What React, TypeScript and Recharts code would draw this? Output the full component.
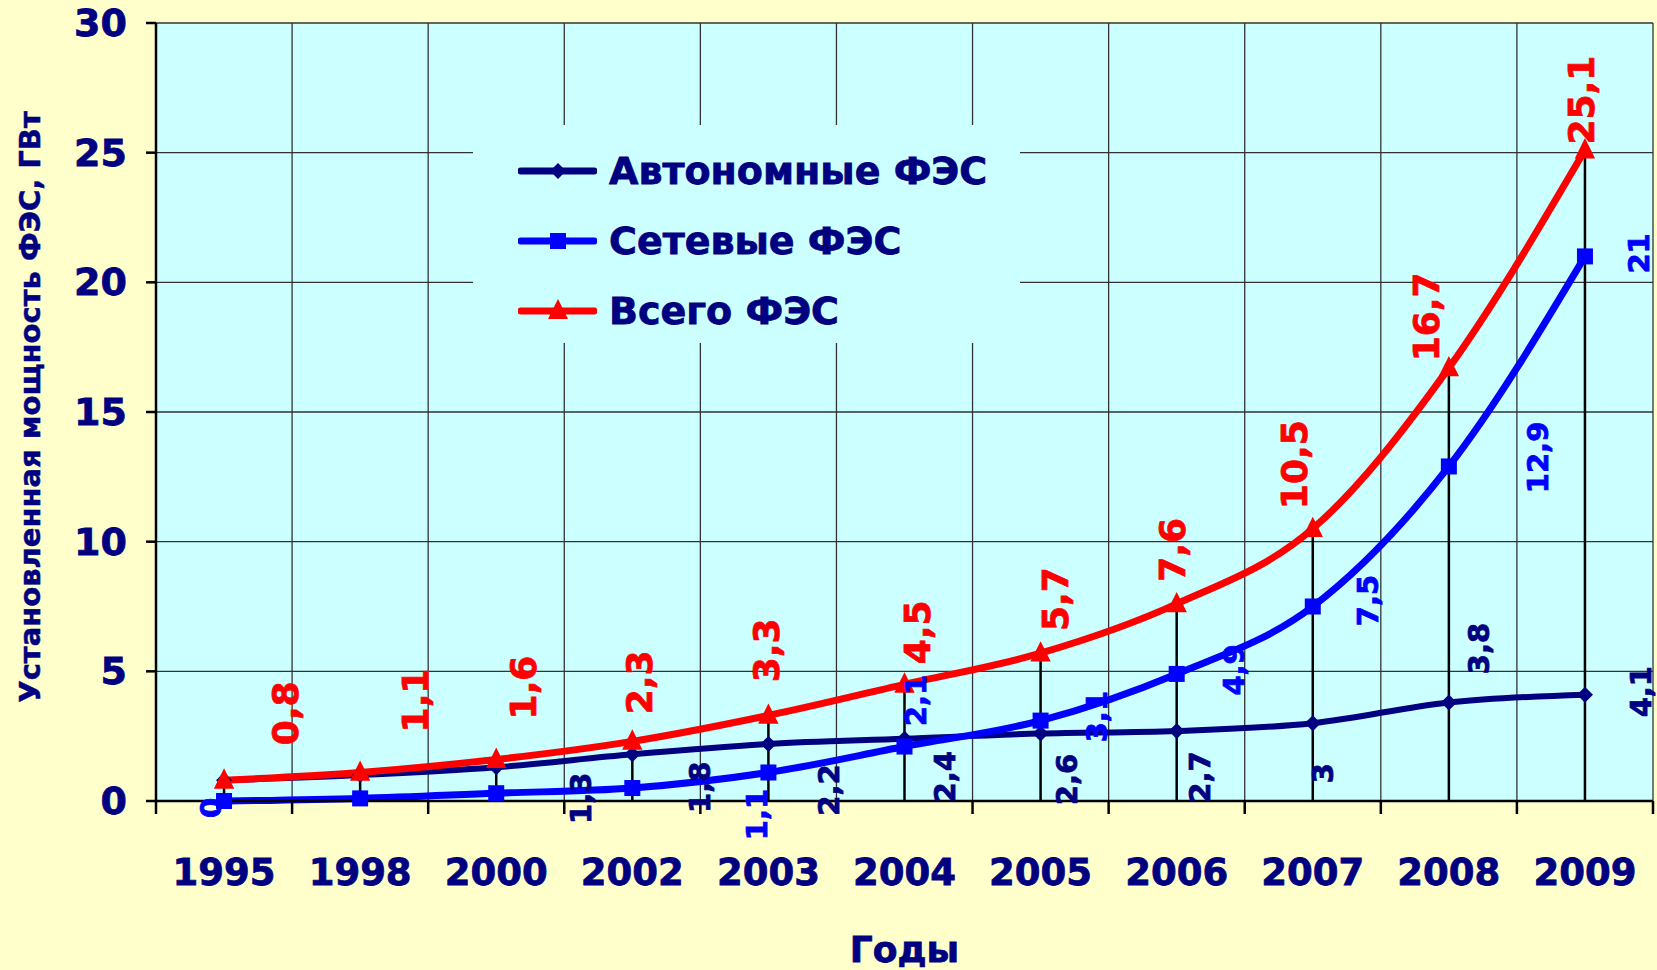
import React from 'react';
import {
  ComposedChart,
  Line,
  XAxis,
  YAxis,
  CartesianGrid,
  ReferenceLine,
  LabelList,
  Legend,
} from 'recharts';

// ---------- data ----------
const years = ['1995', '1998', '2000', '2002', '2003', '2004', '2005', '2006', '2007', '2008', '2009'];
const autonomous = [0.8, 1.0, 1.3, 1.8, 2.2, 2.4, 2.6, 2.7, 3, 3.8, 4.1];
const gridConnected = [0, 0.1, 0.3, 0.5, 1.1, 2.1, 3.1, 4.9, 7.5, 12.9, 21];
const total = [0.8, 1.1, 1.6, 2.3, 3.3, 4.5, 5.7, 7.6, 10.5, 16.7, 25.1];
const yTicks = [0, 5, 10, 15, 20, 25, 30];
const seriesNames = ['Автономные ФЭС', 'Сетевые ФЭС', 'Всего ФЭС'];
const yAxisTitle = 'Установленная мощность ФЭС, ГВт';
const xAxisTitle = 'Годы';

// ---------- label placement (pixel offsets from each point; null = hidden) ----------
const autoLabelOffsets: (number[] | null)[] = [null, null, [85, 31], [68, 33], [61, 46], [41, 38], [26, 46], [23, 46], [10, 50], [30, -54], [56, -3]];
const gridLabelOffsets: (number[] | null)[] = [[-13, 7], null, null, null, [-11, 42], [12, -46], [56, -4], [57, -4], [55, -6], [89, -9], [54, -3]];
const totalLabelOffsets: (number[] | null)[] = [[61, -67], [55, -72], [27, -72], [7, -59], [-2, -65], [13, -52], [15, -54], [-4, -54], [-18, -64], [-22, -51], [-3, -50]];

// ---------- styles ----------
const W = 1657;
const H = 970;
const MARGIN = { top: 23, right: 4, left: 56, bottom: 69 };
const Y_AXIS_W = 100;
const X_AXIS_H = 100;
const PLOT_W = W - MARGIN.left - Y_AXIS_W - MARGIN.right;
const BAND = PLOT_W / years.length;
const FONT = "'DejaVu Sans', sans-serif";
const NAVY = '#000080';
const BLUE = '#0000FF';
const RED = '#FF0000';
const PAGE_BG = '#FFFFCC';
const PLOT_BG = '#CCFFFF';

const rows = years.map((year, i) => ({
  pos: i + 0.5,
  year,
  auto: autonomous[i],
  grid: gridConnected[i],
  total: total[i],
}));

const xTicks = Array.from({ length: years.length + 1 }, (_, i) => i);

const fmt = (v: any) => String(v).replace('.', ',');

const makeLabel = (offsets: (number[] | null)[], color: string, size: number) => (props: any) => {
  const { x, y, value, index } = props;
  const off = offsets[index];
  if (!off || x == null || y == null) return null;
  const cx = x + off[0];
  const cy = y + off[1];
  return (
    <text
      key={`lbl-${color}-${index}`}
      x={cx}
      y={cy}
      transform={`rotate(-90 ${cx} ${cy})`}
      textAnchor="middle"
      dominantBaseline="central"
      fill={color}
      stroke={color}
      strokeWidth={0.8}
      fontSize={size}
      fontWeight="bold"
      fontFamily={FONT}
    >
      {fmt(value)}
    </text>
  );
};

const DiamondDot = (props: any) => {
  const { cx, cy, index } = props;
  if (cx == null || cy == null) return null;
  const r = 8;
  return <path key={`dd-${index}`} d={`M${cx},${cy - r}L${cx + r},${cy}L${cx},${cy + r}L${cx - r},${cy}Z`} fill={NAVY} />;
};
const SquareDot = (props: any) => {
  const { cx, cy, index } = props;
  if (cx == null || cy == null) return null;
  const r = 8;
  return <rect key={`sd-${index}`} x={cx - r} y={cy - r} width={2 * r} height={2 * r} fill={BLUE} />;
};
const TriangleDot = (props: any) => {
  const { cx, cy, index } = props;
  if (cx == null || cy == null) return null;
  const r = 12;
  return <path key={`td-${index}`} d={`M${cx},${cy - r}L${cx + r * 0.85},${cy + r * 0.7}L${cx - r * 0.85},${cy + r * 0.7}Z`} fill={RED} />;
};

const YearTick = (props: any) => {
  const { x, y, payload } = props;
  const i = payload.value;
  if (i >= years.length) return <g />;
  return (
    <text
      x={x + BAND / 2}
      y={y + 56}
      textAnchor="middle"
      dominantBaseline="central"
      fill={NAVY}
      stroke={NAVY}
      strokeWidth={0.8}
      fontSize={37}
      fontWeight="bold"
      fontFamily={FONT}
    >
      {years[i]}
    </text>
  );
};

const YValueTick = (props: any) => {
  const { x, y, payload } = props;
  return (
    <text
      x={x}
      y={y}
      textAnchor="end"
      dominantBaseline="central"
      fill={NAVY}
      stroke={NAVY}
      strokeWidth={0.8}
      fontSize={38}
      fontWeight="bold"
      fontFamily={FONT}
    >
      {payload.value}
    </text>
  );
};

const LegendIcon = ({ color, shape }: { color: string; shape: string }) => (
  <svg width={79} height={26} style={{ display: 'block' }}>
    <line x1={3} y1={13} x2={76} y2={13} stroke={color} strokeWidth={7} strokeLinecap="round" />
    {shape === 'diamond' && <path d="M40,5L48,13L40,21L32,13Z" fill={color} />}
    {shape === 'square' && <rect x={32} y={5} width={16} height={16} fill={color} />}
    {shape === 'triangle' && <path d="M40,1L50,21L30,21Z" fill={color} />}
  </svg>
);

const legendItems = [
  { name: seriesNames[0], color: NAVY, shape: 'diamond' },
  { name: seriesNames[1], color: BLUE, shape: 'square' },
  { name: seriesNames[2], color: RED, shape: 'triangle' },
];

const LegendContent = () => (
  <div
    style={{
      background: PLOT_BG,
      width: 547,
      height: 218,
      boxSizing: 'border-box',
      paddingTop: 11,
      paddingLeft: 45,
    }}
  >
    {legendItems.map((it) => (
      <div key={it.name} style={{ display: 'flex', alignItems: 'center', height: 70 }}>
        <LegendIcon color={it.color} shape={it.shape} />
        <span
          style={{
            marginLeft: 12,
            color: NAVY,
            fontFamily: FONT,
            fontWeight: 'bold',
            fontSize: 38,
            whiteSpace: 'nowrap',
            lineHeight: 1,
            WebkitTextStroke: `0.8px ${NAVY}`,
          }}
        >
          {it.name}
        </span>
      </div>
    ))}
  </div>
);

export default function App() {
  return (
    <div style={{ position: 'fixed', left: 0, top: 0, width: W, height: H, background: PAGE_BG }}>
      <ComposedChart width={W} height={H} data={rows} margin={MARGIN}>
        <CartesianGrid stroke="#333333" strokeWidth={1.3} fill={PLOT_BG} fillOpacity={1} />
        <XAxis
          dataKey="pos"
          type="number"
          domain={[0, years.length]}
          ticks={xTicks}
          interval={0}
          height={X_AXIS_H}
          tickSize={13}
          axisLine={{ stroke: '#000', strokeWidth: 2.5 }}
          tickLine={{ stroke: '#000', strokeWidth: 2.5 }}
          tick={<YearTick />}
          label={(p: any) => {
            const vb = p.viewBox || {};
            const cx = vb.x + vb.width / 2;
            return (
              <text
                x={cx}
                y={949}
                textAnchor="middle"
                dominantBaseline="central"
                fill={NAVY}
                stroke={NAVY}
                strokeWidth={0.8}
                fontSize={36}
                fontWeight="bold"
                fontFamily={FONT}
              >
                {xAxisTitle}
              </text>
            );
          }}
        />
        <YAxis
          type="number"
          domain={[0, 30]}
          ticks={yTicks}
          interval={0}
          width={Y_AXIS_W}
          tickSize={10}
          tickMargin={19}
          axisLine={{ stroke: '#000', strokeWidth: 2.5 }}
          tickLine={{ stroke: '#000', strokeWidth: 2.5 }}
          tick={<YValueTick />}
          label={(p: any) => {
            const vb = p.viewBox || {};
            const cx = vb.x - 26;
            const cy = vb.y + vb.height / 2 - 5;
            return (
              <text
                x={cx}
                y={cy}
                transform={`rotate(-90 ${cx} ${cy})`}
                textAnchor="middle"
                dominantBaseline="central"
                fill={NAVY}
                stroke={NAVY}
                strokeWidth={0.5}
                fontSize={29}
                fontWeight="bold"
                fontFamily={FONT}
              >
                {yAxisTitle}
              </text>
            );
          }}
        />
        {rows.map((r) => (
          <ReferenceLine
            key={`drop-${r.year}`}
            segment={[
              { x: r.pos, y: 0 },
              { x: r.pos, y: r.total },
            ]}
            stroke="#000"
            strokeWidth={2.5}
          />
        ))}
        <Legend
          layout="vertical"
          align="center"
          verticalAlign="middle"
          content={<LegendContent />}
          wrapperStyle={{ left: 473, top: 125, width: 547, height: 218 }}
        />
        <Line
          dataKey="auto"
          name={seriesNames[0]}
          type="monotone"
          stroke={NAVY}
          strokeWidth={6}
          dot={DiamondDot}
          activeDot={false}
          isAnimationActive={false}
        >
          <LabelList dataKey="auto" content={makeLabel(autoLabelOffsets, NAVY, 29)} />
        </Line>
        <Line
          dataKey="grid"
          name={seriesNames[1]}
          type="monotone"
          stroke={BLUE}
          strokeWidth={7}
          dot={SquareDot}
          activeDot={false}
          isAnimationActive={false}
        >
          <LabelList dataKey="grid" content={makeLabel(gridLabelOffsets, BLUE, 29)} />
        </Line>
        <Line
          dataKey="total"
          name={seriesNames[2]}
          type="monotone"
          stroke={RED}
          strokeWidth={7}
          dot={TriangleDot}
          activeDot={false}
          isAnimationActive={false}
        >
          <LabelList dataKey="total" content={makeLabel(totalLabelOffsets, RED, 36)} />
        </Line>
      </ComposedChart>
    </div>
  );
}
